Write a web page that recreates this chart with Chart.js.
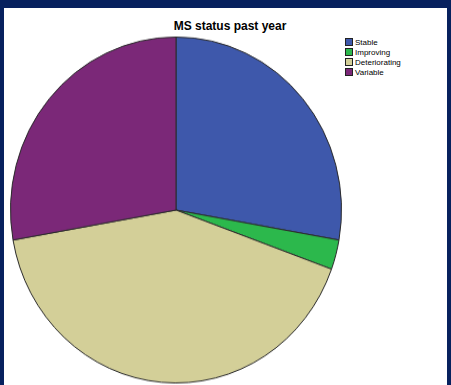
<!DOCTYPE html>
<html>
<head>
<meta charset="utf-8">
<script src="https://cdn.jsdelivr.net/npm/chart.js@4/dist/chart.umd.min.js"></script>
<style>
  html, body { margin: 0; padding: 0; }
  body { width: 451px; height: 385px; background: #07215e; position: relative; overflow: hidden; font-family: "Liberation Sans", Arial, sans-serif; }
  #panel { position: absolute; left: 4px; top: 8px; width: 443px; height: 377px; background: #fff; }
  #title { position: absolute; left: 130px; width: 200px; top: 19px; text-align: center; font-weight: bold; font-size: 12px; color: #000; }
  #pieBox { position: absolute; left: 8px; top: 41.5px; width: 336px; height: 336px; transform: scaleY(1.045); transform-origin: 50% 50%; }
  #legend { position: absolute; left: 345px; top: 38px; font-size: 8px; color: #000; }
  #legend div { height: 10px; line-height: 10px; white-space: nowrap; }
  #legend span.box { display: inline-block; width: 6px; height: 6px; border: 1px solid #222; vertical-align: -1px; margin-right: 2px; }
</style>
</head>
<body>
<div id="panel"></div>
<div id="title">MS status past year</div>
<div id="pieBox"><canvas id="statusPie" width="336" height="336"></canvas></div>
<div id="legend"></div>
<script>
const categories = ['Stable', 'Improving', 'Deteriorating', 'Variable'];
const counts = [10, 1, 15, 10];
const colors = ['#3e58ab', '#2cb84c', '#d3cf98', '#7b2878'];

// legend drawn as plain text rows
const legend = document.getElementById('legend');
categories.forEach((name, i) => {
    const row = document.createElement('div');
    row.innerHTML = '<span class="box" style="background:' + colors[i] + '"></span>' + name;
    legend.appendChild(row);
});

let statusPie = new Chart(
    document.getElementById('statusPie'),
    {
        type: 'pie',
        data: {
            labels: categories,
            datasets: [{
                data: counts,
                backgroundColor: colors,
                borderColor: '#2a2a2a',
                borderWidth: 1,
            }]
        },
        options: {
            responsive: false,
            animation: false,
            layout: { padding: 2 },
            plugins: {
                legend: { display: false },
                tooltip: { enabled: false },
            }
        }
    });
</script>
</body>
</html>
